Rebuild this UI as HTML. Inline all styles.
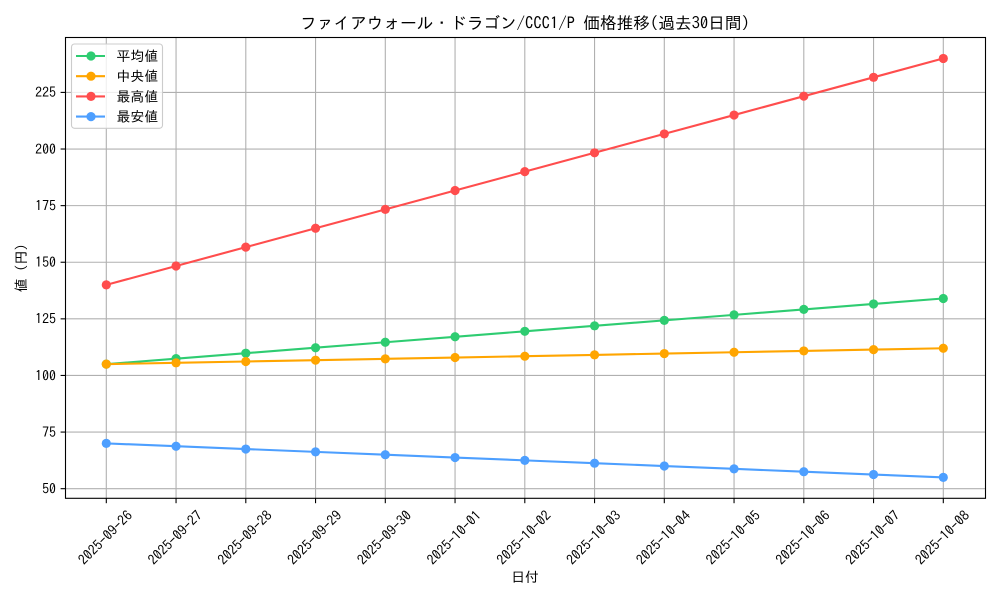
<!DOCTYPE html>
<html><head><meta charset="utf-8">
<style>
html,body{margin:0;padding:0;background:#fff;}
svg{display:block;}
text{font-family:"IPAGothic","Liberation Sans","Noto Sans CJK JP",sans-serif;fill:#000;}
</style></head>
<body>
<svg width="1000" height="600" viewBox="0 0 1000 600" xmlns="http://www.w3.org/2000/svg">
<rect x="0" y="0" width="1000" height="600" fill="#fff"/>
<!-- grid -->
<g stroke="#b0b0b0" stroke-width="1.1">
<line x1="106.3" y1="37.5" x2="106.3" y2="498.3"/>
<line x1="176.05" y1="37.5" x2="176.05" y2="498.3"/>
<line x1="245.8" y1="37.5" x2="245.8" y2="498.3"/>
<line x1="315.55" y1="37.5" x2="315.55" y2="498.3"/>
<line x1="385.3" y1="37.5" x2="385.3" y2="498.3"/>
<line x1="455.05" y1="37.5" x2="455.05" y2="498.3"/>
<line x1="524.8" y1="37.5" x2="524.8" y2="498.3"/>
<line x1="594.55" y1="37.5" x2="594.55" y2="498.3"/>
<line x1="664.3" y1="37.5" x2="664.3" y2="498.3"/>
<line x1="734.05" y1="37.5" x2="734.05" y2="498.3"/>
<line x1="803.8" y1="37.5" x2="803.8" y2="498.3"/>
<line x1="873.55" y1="37.5" x2="873.55" y2="498.3"/>
<line x1="943.3" y1="37.5" x2="943.3" y2="498.3"/>
<line x1="65.5" y1="488.68" x2="985.5" y2="488.68"/>
<line x1="65.5" y1="432.07" x2="985.5" y2="432.07"/>
<line x1="65.5" y1="375.46" x2="985.5" y2="375.46"/>
<line x1="65.5" y1="318.85" x2="985.5" y2="318.85"/>
<line x1="65.5" y1="262.24" x2="985.5" y2="262.24"/>
<line x1="65.5" y1="205.63" x2="985.5" y2="205.63"/>
<line x1="65.5" y1="149.02" x2="985.5" y2="149.02"/>
<line x1="65.5" y1="92.41" x2="985.5" y2="92.41"/>
</g>
<!-- series -->
<g fill="none" stroke-width="2.1" stroke-linejoin="round" stroke-linecap="square">
<polyline stroke="#2ecc71" points="106.3,364.13 176.05,358.66 245.8,353.19 315.55,347.72 385.3,342.24 455.05,336.77 524.8,331.3 594.55,325.83 664.3,320.36 734.05,314.89 803.8,309.41 873.55,303.94 943.3,298.47"/>
<polyline stroke="#ffa500" points="106.3,364.13 176.05,362.81 245.8,361.49 315.55,360.17 385.3,358.85 455.05,357.53 524.8,356.21 594.55,354.89 664.3,353.56 734.05,352.24 803.8,350.92 873.55,349.6 943.3,348.28"/>
<polyline stroke="#ff4d4d" points="106.3,284.88 176.05,266.01 245.8,247.14 315.55,228.27 385.3,209.4 455.05,190.53 524.8,171.66 594.55,152.79 664.3,133.92 734.05,115.05 803.8,96.18 873.55,77.31 943.3,58.44"/>
<polyline stroke="#4d9fff" points="106.3,443.39 176.05,446.22 245.8,449.05 315.55,451.88 385.3,454.71 455.05,457.54 524.8,460.37 594.55,463.2 664.3,466.03 734.05,468.86 803.8,471.7 873.55,474.53 943.3,477.36"/>
</g>
<g fill="#2ecc71">
<circle cx="106.3" cy="364.13" r="4.6"/><circle cx="176.05" cy="358.66" r="4.6"/><circle cx="245.8" cy="353.19" r="4.6"/><circle cx="315.55" cy="347.72" r="4.6"/><circle cx="385.3" cy="342.24" r="4.6"/><circle cx="455.05" cy="336.77" r="4.6"/><circle cx="524.8" cy="331.3" r="4.6"/><circle cx="594.55" cy="325.83" r="4.6"/><circle cx="664.3" cy="320.36" r="4.6"/><circle cx="734.05" cy="314.89" r="4.6"/><circle cx="803.8" cy="309.41" r="4.6"/><circle cx="873.55" cy="303.94" r="4.6"/><circle cx="943.3" cy="298.47" r="4.6"/>
</g>
<g fill="#ffa500">
<circle cx="106.3" cy="364.13" r="4.6"/><circle cx="176.05" cy="362.81" r="4.6"/><circle cx="245.8" cy="361.49" r="4.6"/><circle cx="315.55" cy="360.17" r="4.6"/><circle cx="385.3" cy="358.85" r="4.6"/><circle cx="455.05" cy="357.53" r="4.6"/><circle cx="524.8" cy="356.21" r="4.6"/><circle cx="594.55" cy="354.89" r="4.6"/><circle cx="664.3" cy="353.56" r="4.6"/><circle cx="734.05" cy="352.24" r="4.6"/><circle cx="803.8" cy="350.92" r="4.6"/><circle cx="873.55" cy="349.6" r="4.6"/><circle cx="943.3" cy="348.28" r="4.6"/>
</g>
<g fill="#ff4d4d">
<circle cx="106.3" cy="284.88" r="4.6"/><circle cx="176.05" cy="266.01" r="4.6"/><circle cx="245.8" cy="247.14" r="4.6"/><circle cx="315.55" cy="228.27" r="4.6"/><circle cx="385.3" cy="209.4" r="4.6"/><circle cx="455.05" cy="190.53" r="4.6"/><circle cx="524.8" cy="171.66" r="4.6"/><circle cx="594.55" cy="152.79" r="4.6"/><circle cx="664.3" cy="133.92" r="4.6"/><circle cx="734.05" cy="115.05" r="4.6"/><circle cx="803.8" cy="96.18" r="4.6"/><circle cx="873.55" cy="77.31" r="4.6"/><circle cx="943.3" cy="58.44" r="4.6"/>
</g>
<g fill="#4d9fff">
<circle cx="106.3" cy="443.39" r="4.6"/><circle cx="176.05" cy="446.22" r="4.6"/><circle cx="245.8" cy="449.05" r="4.6"/><circle cx="315.55" cy="451.88" r="4.6"/><circle cx="385.3" cy="454.71" r="4.6"/><circle cx="455.05" cy="457.54" r="4.6"/><circle cx="524.8" cy="460.37" r="4.6"/><circle cx="594.55" cy="463.2" r="4.6"/><circle cx="664.3" cy="466.03" r="4.6"/><circle cx="734.05" cy="468.86" r="4.6"/><circle cx="803.8" cy="471.7" r="4.6"/><circle cx="873.55" cy="474.53" r="4.6"/><circle cx="943.3" cy="477.36" r="4.6"/>
</g>
<!-- spines -->
<rect x="65.5" y="37.5" width="920" height="460.8" fill="none" stroke="#000" stroke-width="1.1"/>
<!-- ticks -->
<g stroke="#000" stroke-width="1.1">
<line x1="106.3" y1="498.3" x2="106.3" y2="503.2"/>
<line x1="176.05" y1="498.3" x2="176.05" y2="503.2"/>
<line x1="245.8" y1="498.3" x2="245.8" y2="503.2"/>
<line x1="315.55" y1="498.3" x2="315.55" y2="503.2"/>
<line x1="385.3" y1="498.3" x2="385.3" y2="503.2"/>
<line x1="455.05" y1="498.3" x2="455.05" y2="503.2"/>
<line x1="524.8" y1="498.3" x2="524.8" y2="503.2"/>
<line x1="594.55" y1="498.3" x2="594.55" y2="503.2"/>
<line x1="664.3" y1="498.3" x2="664.3" y2="503.2"/>
<line x1="734.05" y1="498.3" x2="734.05" y2="503.2"/>
<line x1="803.8" y1="498.3" x2="803.8" y2="503.2"/>
<line x1="873.55" y1="498.3" x2="873.55" y2="503.2"/>
<line x1="943.3" y1="498.3" x2="943.3" y2="503.2"/>
<line x1="60.6" y1="488.68" x2="65.5" y2="488.68"/>
<line x1="60.6" y1="432.07" x2="65.5" y2="432.07"/>
<line x1="60.6" y1="375.46" x2="65.5" y2="375.46"/>
<line x1="60.6" y1="318.85" x2="65.5" y2="318.85"/>
<line x1="60.6" y1="262.24" x2="65.5" y2="262.24"/>
<line x1="60.6" y1="205.63" x2="65.5" y2="205.63"/>
<line x1="60.6" y1="149.02" x2="65.5" y2="149.02"/>
<line x1="60.6" y1="92.41" x2="65.5" y2="92.41"/>
</g>
<!-- y tick labels -->
<g font-size="13.9" text-anchor="end">
<text x="56" y="493.5">50</text>
<text x="56" y="436.9">75</text>
<text x="56" y="380.3">100</text>
<text x="56" y="323.7">125</text>
<text x="56" y="267.1">150</text>
<text x="56" y="210.5">175</text>
<text x="56" y="153.9">200</text>
<text x="56" y="97.2">225</text>
</g>
<!-- x tick labels -->
<g font-size="13.9" text-anchor="middle" dominant-baseline="central">
<text x="105.3" y="537.5" transform="rotate(-45 105.3 537.5)">2025-09-26</text>
<text x="175.05" y="537.5" transform="rotate(-45 175.05 537.5)">2025-09-27</text>
<text x="244.8" y="537.5" transform="rotate(-45 244.8 537.5)">2025-09-28</text>
<text x="314.55" y="537.5" transform="rotate(-45 314.55 537.5)">2025-09-29</text>
<text x="384.3" y="537.5" transform="rotate(-45 384.3 537.5)">2025-09-30</text>
<text x="454.05" y="537.5" transform="rotate(-45 454.05 537.5)">2025-10-01</text>
<text x="523.8" y="537.5" transform="rotate(-45 523.8 537.5)">2025-10-02</text>
<text x="593.55" y="537.5" transform="rotate(-45 593.55 537.5)">2025-10-03</text>
<text x="663.3" y="537.5" transform="rotate(-45 663.3 537.5)">2025-10-04</text>
<text x="733.05" y="537.5" transform="rotate(-45 733.05 537.5)">2025-10-05</text>
<text x="802.8" y="537.5" transform="rotate(-45 802.8 537.5)">2025-10-06</text>
<text x="872.55" y="537.5" transform="rotate(-45 872.55 537.5)">2025-10-07</text>
<text x="942.3" y="537.5" transform="rotate(-45 942.3 537.5)">2025-10-08</text>
</g>
<!-- axis labels -->
<text x="525" y="582" font-size="13.9" text-anchor="middle">日付</text>
<text x="21" y="268" font-size="13.9" text-anchor="middle" dominant-baseline="central" transform="rotate(-90 21 268)">値 (円)</text>
<!-- title -->
<text x="525" y="29" font-size="16.67" text-anchor="middle">ファイアウォール・ドラゴン/CCC1/P 価格推移(過去30日間)</text>
<!-- legend -->
<rect x="71.5" y="44" width="91" height="84.3" rx="3" ry="3" fill="#fff" fill-opacity="0.8" stroke="#cccccc" stroke-width="1.1"/>
<g stroke-width="2.1">
<line x1="76" y1="56" x2="105" y2="56" stroke="#2ecc71"/>
<line x1="76" y1="76.2" x2="105" y2="76.2" stroke="#ffa500"/>
<line x1="76" y1="96.4" x2="105" y2="96.4" stroke="#ff4d4d"/>
<line x1="76" y1="116.6" x2="105" y2="116.6" stroke="#4d9fff"/>
</g>
<circle cx="91" cy="56" r="4.6" fill="#2ecc71"/>
<circle cx="91" cy="76.2" r="4.6" fill="#ffa500"/>
<circle cx="91" cy="96.4" r="4.6" fill="#ff4d4d"/>
<circle cx="91" cy="116.6" r="4.6" fill="#4d9fff"/>
<g font-size="13.9" dominant-baseline="central">
<text x="116.5" y="56">平均値</text>
<text x="116.5" y="76.2">中央値</text>
<text x="116.5" y="96.4">最高値</text>
<text x="116.5" y="116.6">最安値</text>
</g>
</svg>
</body></html>
